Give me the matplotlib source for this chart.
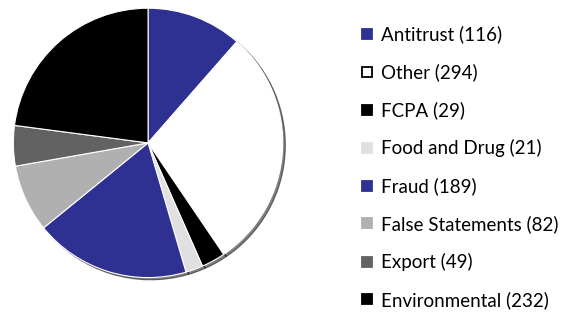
import matplotlib
matplotlib.use("Agg")
import matplotlib.pyplot as plt
from matplotlib.lines import Line2D

# Data
categories = ["Antitrust", "Other", "FCPA", "Food and Drug", "Fraud",
              "False Statements", "Export", "Environmental"]
counts = [116, 294, 29, 21, 189, 82, 49, 232]
colors = ["#2E3192", "#FFFFFF", "#000000", "#E0E0E0", "#2E3192",
          "#B0B0B0", "#626262", "#000000"]

fig = plt.figure(figsize=(5.61, 3.12), dpi=100)
fig.patch.set_facecolor("white")

# pie on the left, roughly a 272 px circle
ax = fig.add_axes([0.0214, 0.106, 0.485, 0.872])
ax.pie(counts, colors=colors, startangle=90, counterclock=False,
       wedgeprops={"edgecolor": "white", "linewidth": 0.8},
       shadow={"ox": 0.014, "oy": -0.012, "shade": 1.0})
ax.set_aspect("equal")
ax.set_xlim(-1.01, 1.01)
ax.set_ylim(-1.01, 1.01)

# legend with small square markers
handles = []
for cat, n, c in zip(categories, counts, colors):
    edge = "black" if c == "#FFFFFF" else c
    handles.append(Line2D([], [], linestyle="none", marker="s", markersize=7,
                          markerfacecolor=c, markeredgecolor=edge,
                          markeredgewidth=1.3,
                          label=f"{cat} ({n})"))

fig.legend(handles=handles, loc="center left", bbox_to_anchor=(0.6433, 0.464),
           frameon=False, prop={"family": "Lato", "size": 13.5},
           handlelength=0.65, handletextpad=0.42, labelspacing=1.066,
           borderpad=0, borderaxespad=0)

plt.savefig("out.png", dpi=100, facecolor="white")
